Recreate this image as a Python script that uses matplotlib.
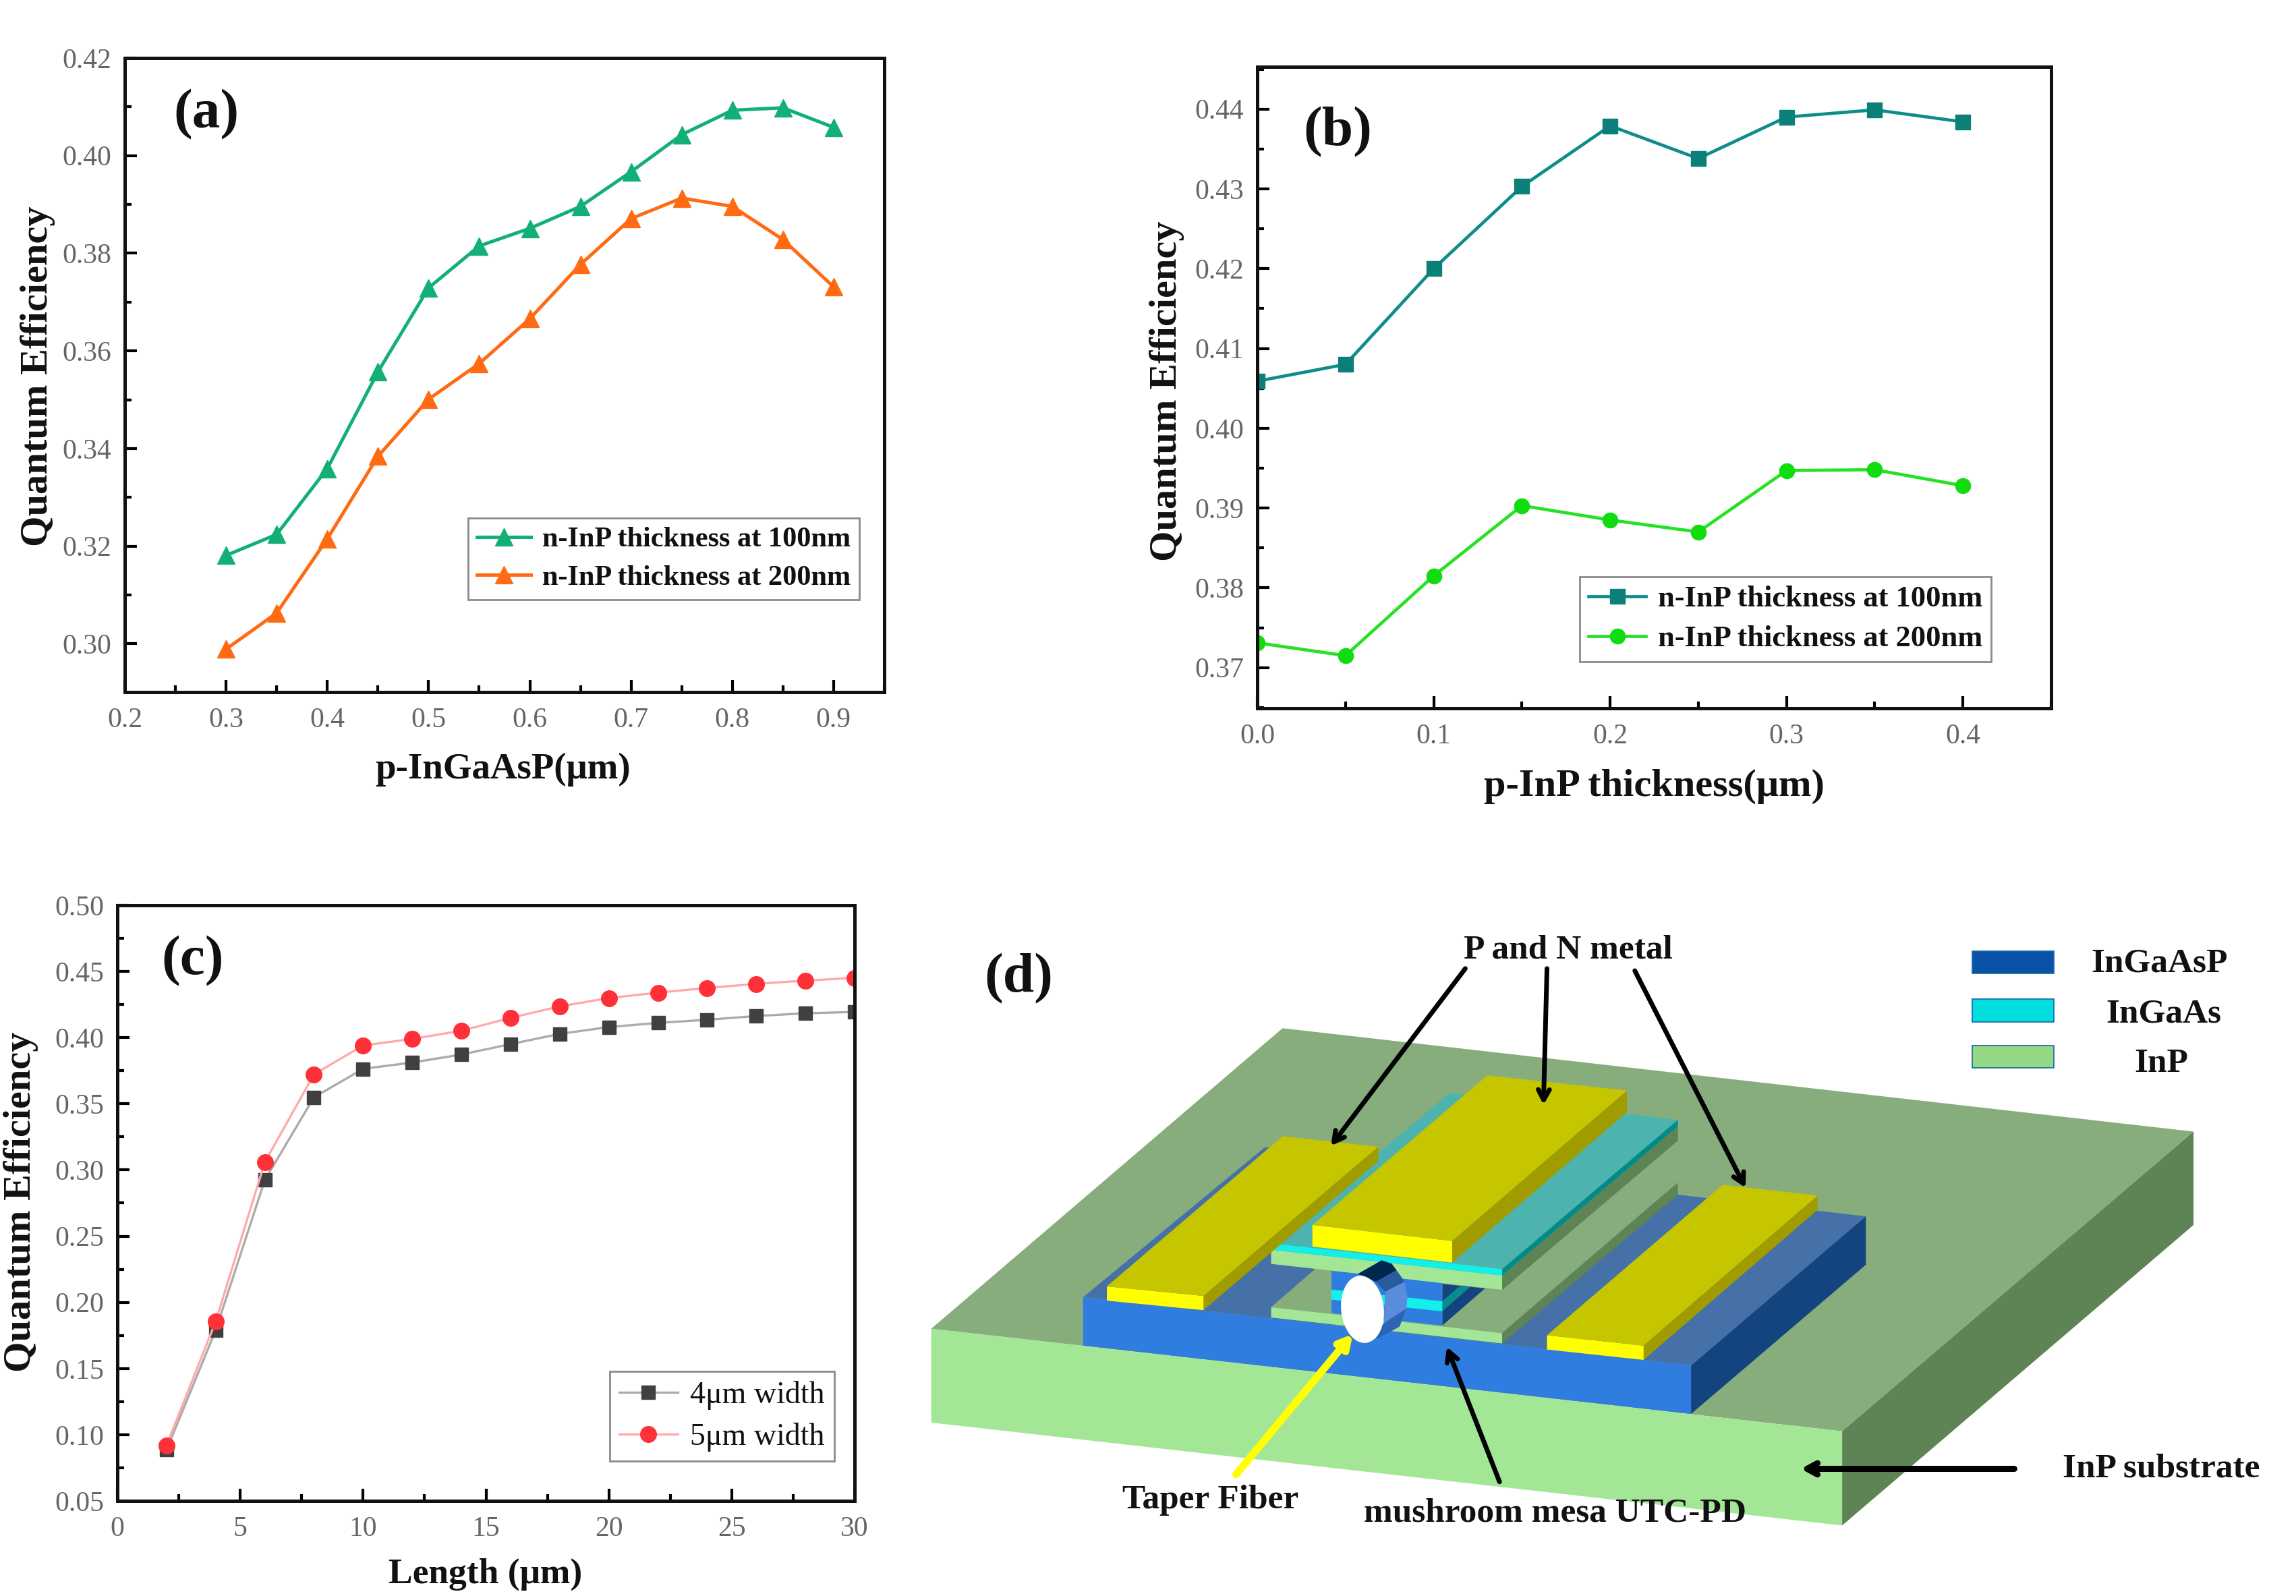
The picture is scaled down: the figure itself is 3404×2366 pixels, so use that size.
import matplotlib
matplotlib.use("Agg")
import matplotlib.pyplot as plt
from matplotlib.patches import Polygon, Ellipse, Rectangle
from matplotlib.ticker import MultipleLocator, FormatStrFormatter

W, H = 3404, 2366
plt.rcParams['font.family'] = ['Liberation Serif', 'DejaVu Serif']

# ---- data ----
a_x = [0.30, 0.35, 0.40, 0.45, 0.50, 0.55, 0.60, 0.65, 0.70, 0.75, 0.80, 0.85, 0.90]
a_100 = [.3181, .3224, .3359, .3557, .3729, .3815, .3851, .3896, .3967, .4043, .4093, .4098, .4058]
a_200 = [.2989, .3063, .3215, .3384, .3501, .3574, .3666, .3777, .3871, .3913, .3896, .3828, .3731]
b_x = [0.0, 0.05, 0.10, 0.15, 0.20, 0.25, 0.30, 0.35, 0.40]
b_100 = [.4059, .4080, .4200, .4303, .4379, .4338, .4390, .4399, .4384]
b_200 = [.3731, .3715, .3815, .3903, .3885, .3870, .3947, .3948, .3928]
c_x = [2, 4, 6, 8, 10, 12, 14, 16, 18, 20, 22, 24, 26, 28, 30]
c_4 = [.0885, .1788, .2924, .3549, .3764, .3812, .3872, .3951, .4028, .4080, .4111, .4135, .4163, .4184, .4194]
c_5 = [.0920, .1854, .3059, .3722, .3941, .3990, .4052, .4149, .4236, .4299, .4340, .4375, .4406, .4431, .4451]
leg_100 = 'n-InP thickness at 100nm'
leg_200 = 'n-InP thickness at 200nm'

fig = plt.figure(figsize=(W / 100, H / 100), dpi=100, facecolor='white')


def make_axes(l, r, t, b):
    ax = fig.add_axes([l / W, 1 - b / H, (r - l) / W, (b - t) / H])
    for s in ax.spines.values():
        s.set_linewidth(3.6)
        s.set_color('#111111')
    ax.tick_params(which='major', direction='in', length=13, width=3, labelsize=30,
                   labelcolor='#666666', pad=14)
    ax.tick_params(which='minor', direction='in', length=7, width=3)
    ax.tick_params(axis='x', which='major', pad=16)
    return ax


def frac(ax_box, px, py):
    l, r, t, b = ax_box
    return (px - l) / (r - l), (b - py) / (b - t)


def labels(ax, box, xl, xsize, xpos, yl, ypos, tag, tagpos):
    ax.set_xlabel(xl, fontsize=xsize, fontweight='bold', color='#111111')
    ax.set_ylabel(yl, fontsize=42, fontweight='bold', color='#111111')
    ax.xaxis.set_label_coords(*frac(box, *xpos))
    ax.yaxis.set_label_coords(*frac(box, *ypos))
    ax.xaxis.label.set_verticalalignment('center')
    ax.yaxis.label.set_verticalalignment('center')
    fx, fy = frac(box, *tagpos)
    ax.text(fx, fy, tag, transform=ax.transAxes, fontsize=60, fontweight='bold',
            ha='center', va='center', color='#111111')


def legend(ax, box, lx, ty, fontsize, weight, hl):
    fx, fy = frac(box, lx, ty)
    lg = ax.legend(loc='upper left', bbox_to_anchor=(fx, fy), borderaxespad=0, fancybox=False,
                   framealpha=1, edgecolor='#8a8a8a', handlelength=hl,
                   prop={'size': fontsize, 'weight': weight, 'family': 'Liberation Serif'},
                   labelspacing=0.42, borderpad=0.3, handletextpad=0.4)
    lg.get_frame().set_linewidth(2)
    for t in lg.get_texts():
        t.set_color('#111111')
    return lg


# ---- panel a ----
box_a = (185, 1311, 86, 1026)
ax = make_axes(*box_a)
ax.plot(a_x, a_100, '-^', color='#12B076', lw=3.6, ms=19, label=leg_100)
ax.plot(a_x, a_200, '-^', color='#FF6A13', lw=3.6, ms=19, label=leg_200)
ax.set_xlim(0.2, 0.95)
ax.set_ylim(0.2901, 0.42)
ax.xaxis.set_major_locator(MultipleLocator(0.1))
ax.xaxis.set_minor_locator(MultipleLocator(0.05))
ax.yaxis.set_major_locator(MultipleLocator(0.02))
ax.yaxis.set_minor_locator(MultipleLocator(0.01))
ax.xaxis.set_major_formatter(FormatStrFormatter('%.1f'))
ax.yaxis.set_major_formatter(FormatStrFormatter('%.2f'))
labels(ax, box_a, 'p-InGaAsP(μm)', 39.5, (746, 1141), 'Quantum Efficiency', (56, 558), '(a)', (306, 170))
legend(ax, box_a, 694, 768, 30.5, 'bold', 1.9)

# ---- panel b ----
box_b = (1864, 3041, 99, 1050)
ax = make_axes(*box_b)
ax.plot(b_x, b_100, '-s', color='#0E8C8C', mfc='#0B8078', mec='#0B8078', lw=3.4, ms=16, label=leg_100)
ax.plot(b_x, b_200, '-o', color='#25E225', mfc='#10DC10', mec='#10DC10', lw=3.4, ms=16, label=leg_200)
ax.set_xlim(0.0, 0.45)
ax.set_ylim(0.3649, 0.4453)
ax.xaxis.set_major_locator(MultipleLocator(0.1))
ax.xaxis.set_minor_locator(MultipleLocator(0.05))
ax.yaxis.set_major_locator(MultipleLocator(0.01))
ax.yaxis.set_minor_locator(MultipleLocator(0.005))
ax.xaxis.set_major_formatter(FormatStrFormatter('%.1f'))
ax.yaxis.set_major_formatter(FormatStrFormatter('%.2f'))
labels(ax, box_b, 'p-InP thickness(μm)', 42, (2453, 1166), 'Quantum Efficiency', (1730, 580), '(b)', (1983, 196))
legend(ax, box_b, 2342, 855, 32, 'bold', 1.9)

# ---- panel c ----
box_c = (174, 1267, 1342, 2225)
ax = make_axes(*box_c)
ax.plot(c_x, c_4, '-s', color='#ABABAB', mfc='#404040', mec='#404040', lw=2.4, ms=15, label='4μm width')
ax.plot(c_x, c_5, '-o', color='#FFAAAA', mfc='#FF3038', mec='#FF3038', lw=2.4, ms=17, label='5μm width')
ax.set_xlim(0, 30)
ax.set_ylim(0.05, 0.50)
ax.xaxis.set_major_locator(MultipleLocator(5))
ax.xaxis.set_minor_locator(MultipleLocator(2.5))
ax.yaxis.set_major_locator(MultipleLocator(0.05))
ax.yaxis.set_minor_locator(MultipleLocator(0.025))
ax.xaxis.set_major_formatter(FormatStrFormatter('%d'))
ax.yaxis.set_major_formatter(FormatStrFormatter('%.2f'))
labels(ax, box_c, 'Length (μm)', 38.5, (720, 2334), 'Quantum Efficiency', (31, 1782), '(c)', (286, 1425))
legend(ax, box_c, 904, 2033, 33, 'normal', 1.9)

# ---- panel d : schematic, drawn in reference-pixel space ----
ov = fig.add_axes([0, 0, 1, 1], zorder=-1)
ov.set_xlim(0, W)
ov.set_ylim(H, 0)
ov.axis('off')


def Z(x, y):
    return 1361 + x * 1.3024, 1336.5 + y * 0.641


def C(x, y):
    return 1800 + x / 3, 1780 + y / 3


def poly(color, *pts):
    ov.add_patch(Polygon([Z(*p) for p in pts], closed=True, fc=color, ec='none'))


def cpoly(color, *pts):
    ov.add_patch(Polygon([C(*p) for p in pts], closed=True, fc=color, ec='none'))


SUB_TOP, SUB_FRONT, SUB_SIDE = '#87AD7D', '#A3E696', '#5E8455'
BLUE_TOP, BLUE_FRONT, BLUE_SIDE = '#4571A8', '#2E7DDF', '#14447F'
MET_TOP, MET_FRONT, MET_SIDE = '#C6C600', '#FFFF00', '#A09C00'
TEAL, CYAN = '#4DB3AE', '#14F0E8'

poly(SUB_TOP, (415, 293), (1452, 532), (1052, 1225), (15, 988))
poly(SUB_FRONT, (15, 988), (1052, 1225), (1052, 1443), (15, 1205))
poly(SUB_SIDE, (1052, 1225), (1452, 532), (1452, 748), (1052, 1443))
# lower blue mesa
poly(BLUE_TOP, (395, 568), (1079, 728), (880, 1073), (188, 915))
poly(BLUE_FRONT, (188, 915), (880, 1073), (880, 1185), (188, 1027))
poly(BLUE_SIDE, (880, 1073), (1079, 728), (1079, 840), (880, 1185))
# n-InP layer
poly(SUB_TOP, (402, 938), (665, 998), (865, 650), (600, 590))
poly(SUB_FRONT, (402, 938), (665, 998), (665, 1022), (402, 962))
poly(SUB_SIDE, (665, 998), (865, 650), (865, 678), (665, 1022))
# pillar
cpoly(BLUE_SIDE, (1015, 370), (1205, 390), (1015, 555))
cpoly('#0A8C8C', (1015, 447), (1090, 382), (1140, 382), (1015, 492))
cpoly(BLUE_FRONT, (522, 300), (1015, 360), (1015, 555), (522, 500))
cpoly(CYAN, (522, 395), (1015, 447), (1015, 492), (522, 440))
# upper mushroom
poly(SUB_FRONT, (402, 805), (665, 865), (665, 898), (402, 838))
poly(SUB_SIDE, (665, 865), (865, 520), (865, 553), (665, 898))
poly(TEAL, (402, 790), (665, 850), (865, 505), (605, 443))
poly(CYAN, (402, 790), (665, 850), (665, 865), (402, 805))
poly('#008B8B', (665, 850), (865, 505), (865, 520), (665, 865))


def metal(a, b, c, d, h):
    poly(MET_SIDE, b, c, (c[0], c[1] + h), (b[0], b[1] + h))
    poly(MET_FRONT, a, b, (b[0], b[1] + h), (a[0], a[1] + h))
    poly(MET_TOP, a, b, c, d)


metal((449, 748), (608, 785), (807, 437), (648, 402), 50)
metal((215, 890), (325, 912), (524, 567), (415, 543), 33)
metal((716, 1003), (826, 1027), (1024, 680), (916, 655), 33)

# fibre
cpoly('#02274F', (640, 325), (745, 265), (790, 280), (812, 310), (720, 360))
cpoly('#2A5A9E', (720, 360), (812, 310), (848, 360), (760, 405))
cpoly('#5B8BDB', (760, 405), (848, 360), (860, 430), (855, 480), (755, 545))
cpoly('#2C65B5', (755, 545), (855, 480), (825, 560), (730, 612), (700, 610))
ov.add_patch(Ellipse(C(660, 483), 190 / 3, 300 / 3, angle=-6, fc='white', ec='none'))


def arrow(p, q, color='black', lw=5):
    ov.annotate('', xy=Z(*q), xytext=Z(*p),
                arrowprops=dict(arrowstyle='->,head_length=1.1,head_width=0.6', color=color,
                                lw=lw, shrinkA=0, shrinkB=0))


arrow((623, 155), (470, 565))
arrow((716, 155), (712, 470))
arrow((816, 160), (942, 662))
arrow((1248, 1312), (1005, 1312), lw=6.5)
arrow((662, 1342), (602, 1030))
arrow((362, 1325), (495, 1000), color='#FFFF00', lw=8)

for (top, c) in [(114, '#0A52A8'), (226, '#00DEDE'), (333, '#94D884')]:
    x0, y0 = Z(1200, top)
    x1, y1 = Z(1293, top + 52)
    ov.add_patch(Rectangle((x0, y0), x1 - x0, y1 - y0, fc=c, ec='#1565A8', lw=1.2))


def note(x, y, s, size=37):
    px, py = Z(x, y)
    ov.text(px, py, s, fontsize=size, fontweight='bold', ha='center', va='center', color='#111111')


note(740, 112, 'P and N metal')
note(1413, 143, 'InGaAsP')
note(1418, 260, 'InGaAs')
note(1415, 375, 'InP')
note(333, 1385, 'Taper Fiber')
note(725, 1415, 'mushroom mesa UTC-PD')
note(1415, 1312, 'InP substrate')
note(115, 178, '(d)', 60)

fig.savefig('out.png', dpi=100, facecolor='white')
